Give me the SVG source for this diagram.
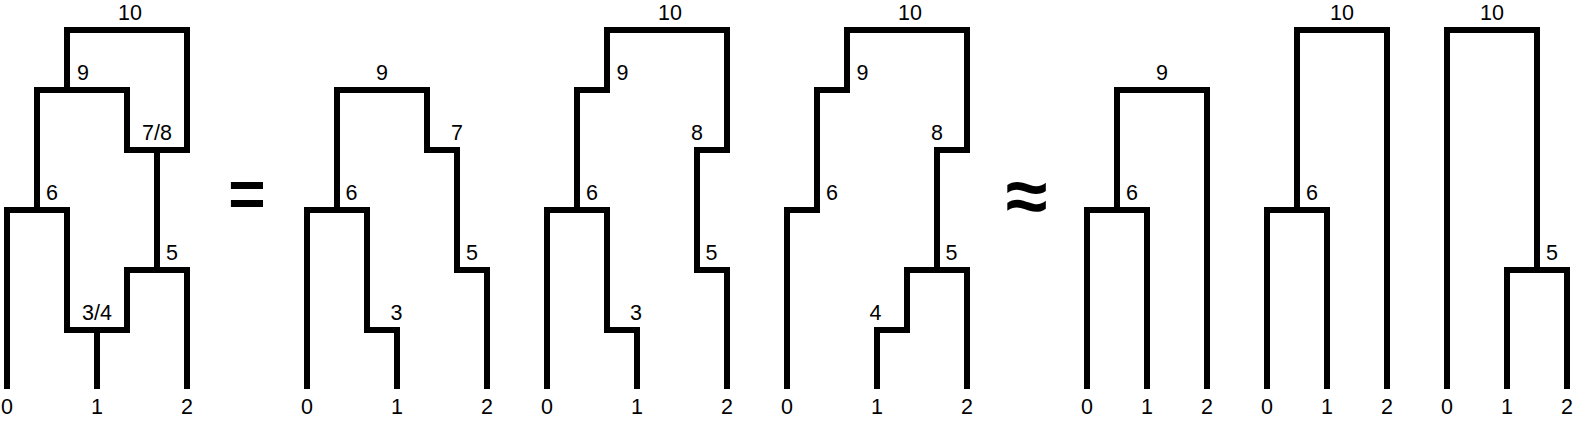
<svg xmlns="http://www.w3.org/2000/svg" width="1575" height="423" viewBox="0 0 1575 423">
<style>
.e{fill:none;stroke:#000;stroke-width:6;stroke-linejoin:miter;stroke-linecap:butt}
text{font-family:"Liberation Sans",Arial,sans-serif;font-size:21.5px;fill:#000;text-anchor:middle}
.op{font-weight:bold;font-size:64px}
.ap{font-weight:bold;font-size:76px}
</style>
<rect width="1575" height="423" fill="#fff"/>
<g id="connectors">
<path class="e" d="M7,389V210H67V330H127V270H187V389M97,389V330M37,210V90H127V150H187V30H67V90M157,150V270"/>
<path class="e" d="M307,389V210H367V330H397V389M337,210V90H427V150H457V270H487V389"/>
<path class="e" d="M547,389V210H607V330H637V389M577,210V90H607V30H727V150H697V270H727V389"/>
<path class="e" d="M787,389V210H817V90H847V30H967V150H937V270M877,389V330H907V270H967V389"/>
<path class="e" d="M1087,389V210H1147V389M1117,210V90H1207V389"/>
<path class="e" d="M1267,389V210H1327V389M1297,210V30H1387V389"/>
<path class="e" d="M1447,389V30H1537V270M1507,389V270H1567V389"/>
</g>
<g id="tree1">
<g id="t1-n10"><text x="130" y="20">10</text></g>
<g id="t1-n9"><text x="83" y="80">9</text></g>
<g id="t1-n78"><text x="157" y="140">7/8</text></g>
<g id="t1-n6"><text x="52" y="200">6</text></g>
<g id="t1-n5"><text x="172" y="260">5</text></g>
<g id="t1-n34"><text x="97" y="320">3/4</text></g>
<g id="t1-l0"><text x="7" y="414">0</text></g>
<g id="t1-l1"><text x="97" y="414">1</text></g>
<g id="t1-l2"><text x="187" y="414">2</text></g>
</g>
<g id="eq"><text class="op" x="247" y="216">=</text></g>
<g id="tree2">
<g id="t2-n9"><text x="382" y="80">9</text></g>
<g id="t2-n7"><text x="457" y="140">7</text></g>
<g id="t2-n6"><text x="351.5" y="200">6</text></g>
<g id="t2-n5"><text x="472" y="260">5</text></g>
<g id="t2-n3"><text x="396.5" y="320">3</text></g>
<g id="t2-l0"><text x="307" y="414">0</text></g>
<g id="t2-l1"><text x="397" y="414">1</text></g>
<g id="t2-l2"><text x="487" y="414">2</text></g>
</g>
<g id="tree3">
<g id="t3-n10"><text x="670" y="20">10</text></g>
<g id="t3-n9"><text x="622.5" y="80">9</text></g>
<g id="t3-n8"><text x="697" y="140">8</text></g>
<g id="t3-n6"><text x="592" y="200">6</text></g>
<g id="t3-n5"><text x="711.5" y="260">5</text></g>
<g id="t3-n3"><text x="636" y="320">3</text></g>
<g id="t3-l0"><text x="547" y="414">0</text></g>
<g id="t3-l1"><text x="637" y="414">1</text></g>
<g id="t3-l2"><text x="727" y="414">2</text></g>
</g>
<g id="tree4">
<g id="t4-n10"><text x="910" y="20">10</text></g>
<g id="t4-n9"><text x="862.5" y="80">9</text></g>
<g id="t4-n8"><text x="937" y="140">8</text></g>
<g id="t4-n6"><text x="832" y="200">6</text></g>
<g id="t4-n5"><text x="951.5" y="260">5</text></g>
<g id="t4-n4"><text x="875.5" y="320">4</text></g>
<g id="t4-l0"><text x="787" y="414">0</text></g>
<g id="t4-l1"><text x="877" y="414">1</text></g>
<g id="t4-l2"><text x="967" y="414">2</text></g>
</g>
<g id="approx"><text class="ap" x="1026.5" y="222">≈</text></g>
<g id="tree5">
<g id="t5-n9"><text x="1162" y="80">9</text></g>
<g id="t5-n6"><text x="1132" y="200">6</text></g>
<g id="t5-l0"><text x="1087" y="414">0</text></g>
<g id="t5-l1"><text x="1147" y="414">1</text></g>
<g id="t5-l2"><text x="1207" y="414">2</text></g>
</g>
<g id="tree6">
<g id="t6-n10"><text x="1342" y="20">10</text></g>
<g id="t6-n6"><text x="1312" y="200">6</text></g>
<g id="t6-l0"><text x="1267" y="414">0</text></g>
<g id="t6-l1"><text x="1327" y="414">1</text></g>
<g id="t6-l2"><text x="1387" y="414">2</text></g>
</g>
<g id="tree7">
<g id="t7-n10"><text x="1492" y="20">10</text></g>
<g id="t7-n5"><text x="1552" y="260">5</text></g>
<g id="t7-l0"><text x="1447" y="414">0</text></g>
<g id="t7-l1"><text x="1507" y="414">1</text></g>
<g id="t7-l2"><text x="1567" y="414">2</text></g>
</g>
</svg>
